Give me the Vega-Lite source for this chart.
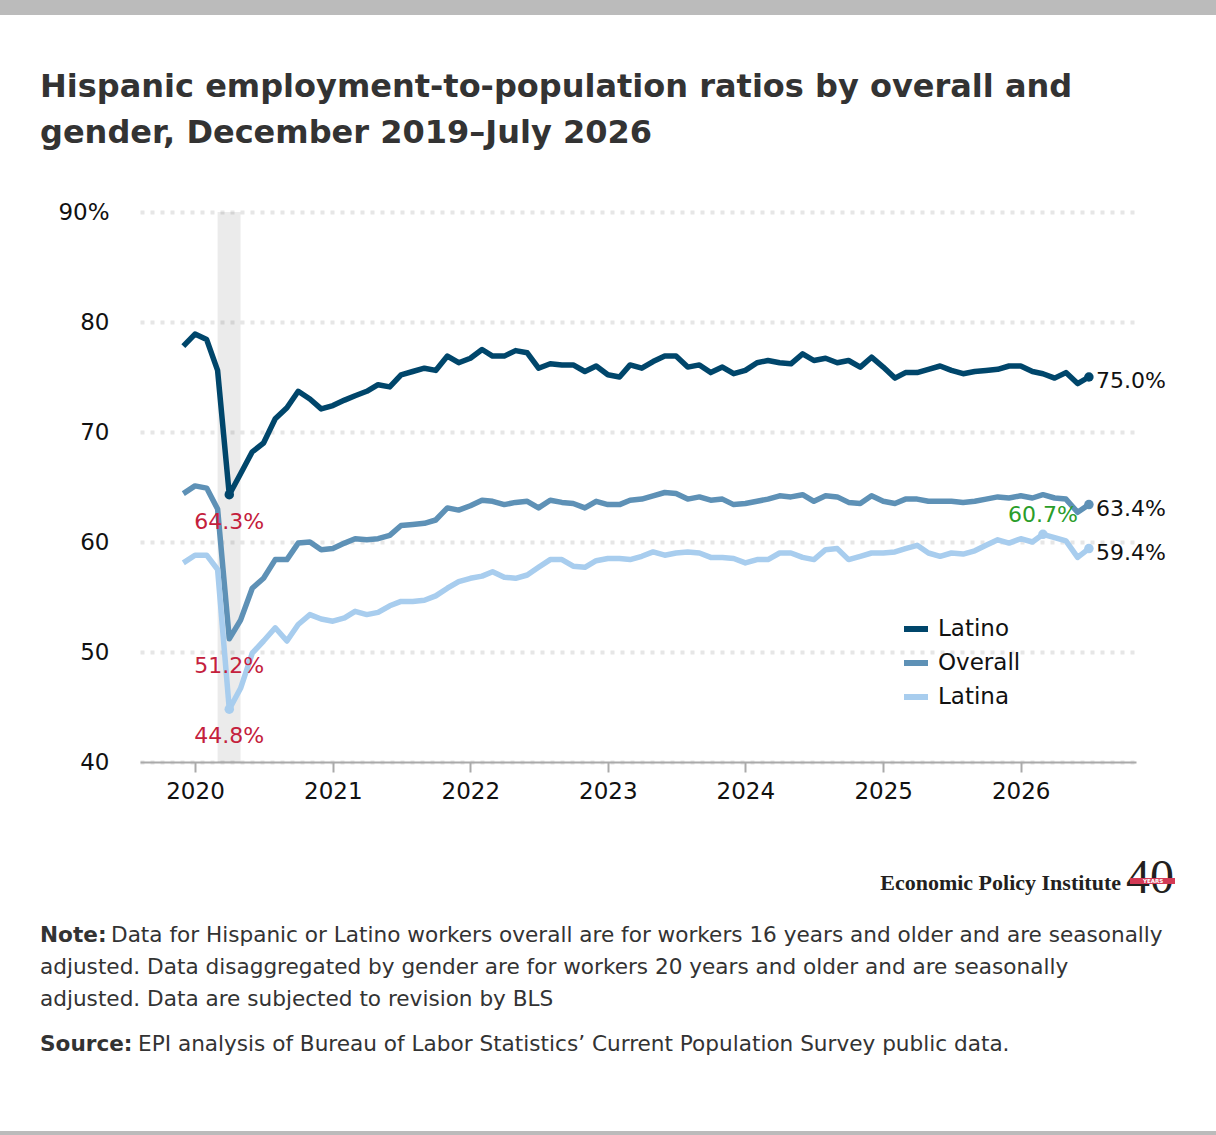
{
  "$schema": "https://vega.github.io/schema/vega-lite/v6.json",
  "background": "white",
  "padding": 0,
  "spacing": 52,
  "config": {
    "font": "DejaVu Sans",
    "view": {"stroke": null}
  },
  "vconcat": [
    {
      "width": 1076,
      "height": 15,
      "data": {"values": [{}]},
      "mark": {"type": "rect", "color": "#bbbbbb"},
      "encoding": {
        "x": {"datum": 0, "type": "quantitative", "scale": {"domain": [140, 1216], "nice": false, "zero": false}, "axis": null},
        "x2": {"datum": 1216}
      },
      "title": {
        "text": ["Hispanic employment-to-population ratios by overall and", "gender, December 2019–July 2026"],
        "orient": "bottom",
        "anchor": "start",
        "frame": "group",
        "dx": -100,
        "offset": 82,
        "baseline": "alphabetic",
        "font": "DejaVu Sans",
        "fontSize": 32,
        "fontWeight": 700,
        "color": "#333333",
        "lineHeight": 46
      }
    },
    {
      "width": 996,
      "height": 550,
      "layer": [
        {
          "data": {
            "values": [{"start": "2020-03-01", "end": "2020-05-01"}],
            "format": {"parse": {"start": "date", "end": "date"}}
          },
          "mark": {"type": "rect", "color": "#000000", "opacity": 0.08},
          "encoding": {
            "x": {
              "field": "start",
              "type": "temporal",
              "scale": {
                "type": "utc",
                "domain": [
                  {"year": 2019, "month": 8, "date": 8, "utc": true},
                  {"year": 2026, "month": 11, "date": 3, "utc": true}
                ]
              },
              "axis": {
                "title": null,
                "format": "%Y",
                "values": [
                  {"year": 2020, "utc": true},
                  {"year": 2021, "utc": true},
                  {"year": 2022, "utc": true},
                  {"year": 2023, "utc": true},
                  {"year": 2024, "utc": true},
                  {"year": 2025, "utc": true},
                  {"year": 2026, "utc": true}
                ],
                "grid": false,
                "domainColor": "#aaaaaa",
                "domainWidth": 2,
                "tickColor": "#aaaaaa",
                "tickWidth": 2,
                "tickSize": 10,
                "labelFont": "DejaVu Sans",
                "labelFontSize": 23,
                "labelColor": "#111111",
                "labelPadding": 8
              }
            },
            "x2": {"field": "end"}
          }
        },
        {
          "data": {
            "values": [
              {"date": "2019-12-01", "Latino": 77.8, "Overall": 64.4, "Latina": 58.1},
              {"date": "2020-01-01", "Latino": 78.9, "Overall": 65.1, "Latina": 58.8},
              {"date": "2020-02-01", "Latino": 78.4, "Overall": 64.9, "Latina": 58.8},
              {"date": "2020-03-01", "Latino": 75.6, "Overall": 63.0, "Latina": 57.5},
              {"date": "2020-04-01", "Latino": 64.3, "Overall": 51.2, "Latina": 44.8},
              {"date": "2020-05-01", "Latino": 66.2, "Overall": 52.9, "Latina": 46.7},
              {"date": "2020-06-01", "Latino": 68.2, "Overall": 55.8, "Latina": 49.9},
              {"date": "2020-07-01", "Latino": 69.0, "Overall": 56.7, "Latina": 51.0},
              {"date": "2020-08-01", "Latino": 71.2, "Overall": 58.4, "Latina": 52.2},
              {"date": "2020-09-01", "Latino": 72.2, "Overall": 58.4, "Latina": 51.0},
              {"date": "2020-10-01", "Latino": 73.7, "Overall": 59.9, "Latina": 52.5},
              {"date": "2020-11-01", "Latino": 73.0, "Overall": 60.0, "Latina": 53.4},
              {"date": "2020-12-01", "Latino": 72.1, "Overall": 59.3, "Latina": 53.0},
              {"date": "2021-01-01", "Latino": 72.4, "Overall": 59.4, "Latina": 52.8},
              {"date": "2021-02-01", "Latino": 72.9, "Overall": 59.9, "Latina": 53.1},
              {"date": "2021-03-01", "Latino": 73.3, "Overall": 60.3, "Latina": 53.7},
              {"date": "2021-04-01", "Latino": 73.7, "Overall": 60.2, "Latina": 53.4},
              {"date": "2021-05-01", "Latino": 74.3, "Overall": 60.3, "Latina": 53.6},
              {"date": "2021-06-01", "Latino": 74.1, "Overall": 60.6, "Latina": 54.2},
              {"date": "2021-07-01", "Latino": 75.2, "Overall": 61.5, "Latina": 54.6},
              {"date": "2021-08-01", "Latino": 75.5, "Overall": 61.6, "Latina": 54.6},
              {"date": "2021-09-01", "Latino": 75.8, "Overall": 61.7, "Latina": 54.7},
              {"date": "2021-10-01", "Latino": 75.6, "Overall": 62.0, "Latina": 55.1},
              {"date": "2021-11-01", "Latino": 76.9, "Overall": 63.1, "Latina": 55.8},
              {"date": "2021-12-01", "Latino": 76.3, "Overall": 62.9, "Latina": 56.4},
              {"date": "2022-01-01", "Latino": 76.7, "Overall": 63.3, "Latina": 56.7},
              {"date": "2022-02-01", "Latino": 77.5, "Overall": 63.8, "Latina": 56.9},
              {"date": "2022-03-01", "Latino": 76.9, "Overall": 63.7, "Latina": 57.3},
              {"date": "2022-04-01", "Latino": 76.9, "Overall": 63.4, "Latina": 56.8},
              {"date": "2022-05-01", "Latino": 77.4, "Overall": 63.6, "Latina": 56.7},
              {"date": "2022-06-01", "Latino": 77.2, "Overall": 63.7, "Latina": 57.0},
              {"date": "2022-07-01", "Latino": 75.8, "Overall": 63.1, "Latina": 57.7},
              {"date": "2022-08-01", "Latino": 76.2, "Overall": 63.8, "Latina": 58.4},
              {"date": "2022-09-01", "Latino": 76.1, "Overall": 63.6, "Latina": 58.4},
              {"date": "2022-10-01", "Latino": 76.1, "Overall": 63.5, "Latina": 57.8},
              {"date": "2022-11-01", "Latino": 75.5, "Overall": 63.1, "Latina": 57.7},
              {"date": "2022-12-01", "Latino": 76.0, "Overall": 63.7, "Latina": 58.3},
              {"date": "2023-01-01", "Latino": 75.2, "Overall": 63.4, "Latina": 58.5},
              {"date": "2023-02-01", "Latino": 75.0, "Overall": 63.4, "Latina": 58.5},
              {"date": "2023-03-01", "Latino": 76.1, "Overall": 63.8, "Latina": 58.4},
              {"date": "2023-04-01", "Latino": 75.8, "Overall": 63.9, "Latina": 58.7},
              {"date": "2023-05-01", "Latino": 76.4, "Overall": 64.2, "Latina": 59.1},
              {"date": "2023-06-01", "Latino": 76.9, "Overall": 64.5, "Latina": 58.8},
              {"date": "2023-07-01", "Latino": 76.9, "Overall": 64.4, "Latina": 59.0},
              {"date": "2023-08-01", "Latino": 75.9, "Overall": 63.9, "Latina": 59.1},
              {"date": "2023-09-01", "Latino": 76.1, "Overall": 64.1, "Latina": 59.0},
              {"date": "2023-10-01", "Latino": 75.4, "Overall": 63.8, "Latina": 58.6},
              {"date": "2023-11-01", "Latino": 75.9, "Overall": 63.9, "Latina": 58.6},
              {"date": "2023-12-01", "Latino": 75.3, "Overall": 63.4, "Latina": 58.5},
              {"date": "2024-01-01", "Latino": 75.6, "Overall": 63.5, "Latina": 58.1},
              {"date": "2024-02-01", "Latino": 76.3, "Overall": 63.7, "Latina": 58.4},
              {"date": "2024-03-01", "Latino": 76.5, "Overall": 63.9, "Latina": 58.4},
              {"date": "2024-04-01", "Latino": 76.3, "Overall": 64.2, "Latina": 59.0},
              {"date": "2024-05-01", "Latino": 76.2, "Overall": 64.1, "Latina": 59.0},
              {"date": "2024-06-01", "Latino": 77.1, "Overall": 64.3, "Latina": 58.6},
              {"date": "2024-07-01", "Latino": 76.5, "Overall": 63.7, "Latina": 58.4},
              {"date": "2024-08-01", "Latino": 76.7, "Overall": 64.2, "Latina": 59.3},
              {"date": "2024-09-01", "Latino": 76.3, "Overall": 64.1, "Latina": 59.4},
              {"date": "2024-10-01", "Latino": 76.5, "Overall": 63.6, "Latina": 58.4},
              {"date": "2024-11-01", "Latino": 75.9, "Overall": 63.5, "Latina": 58.7},
              {"date": "2024-12-01", "Latino": 76.8, "Overall": 64.2, "Latina": 59.0},
              {"date": "2025-01-01", "Latino": 75.9, "Overall": 63.7, "Latina": 59.0},
              {"date": "2025-02-01", "Latino": 74.9, "Overall": 63.5, "Latina": 59.1},
              {"date": "2025-03-01", "Latino": 75.4, "Overall": 63.9, "Latina": 59.4},
              {"date": "2025-04-01", "Latino": 75.4, "Overall": 63.9, "Latina": 59.7},
              {"date": "2025-05-01", "Latino": 75.7, "Overall": 63.7, "Latina": 59.0},
              {"date": "2025-06-01", "Latino": 76.0, "Overall": 63.7, "Latina": 58.7},
              {"date": "2025-07-01", "Latino": 75.6, "Overall": 63.7, "Latina": 59.0},
              {"date": "2025-08-01", "Latino": 75.3, "Overall": 63.6, "Latina": 58.9},
              {"date": "2025-09-01", "Latino": 75.5, "Overall": 63.7, "Latina": 59.2},
              {"date": "2025-10-01", "Latino": 75.6, "Overall": 63.9, "Latina": 59.7},
              {"date": "2025-11-01", "Latino": 75.7, "Overall": 64.1, "Latina": 60.2},
              {"date": "2025-12-01", "Latino": 76.0, "Overall": 64.0, "Latina": 59.9},
              {"date": "2026-01-01", "Latino": 76.0, "Overall": 64.2, "Latina": 60.3},
              {"date": "2026-02-01", "Latino": 75.5, "Overall": 64.0, "Latina": 60.0},
              {"date": "2026-03-01", "Latino": 75.3, "Overall": 64.3, "Latina": 60.7},
              {"date": "2026-04-01", "Latino": 74.9, "Overall": 64.0, "Latina": 60.4},
              {"date": "2026-05-01", "Latino": 75.4, "Overall": 63.9, "Latina": 60.1},
              {"date": "2026-06-01", "Latino": 74.4, "Overall": 62.7, "Latina": 58.6},
              {"date": "2026-07-01", "Latino": 75.0, "Overall": 63.4, "Latina": 59.4}
            ],
            "format": {"parse": {"date": "date"}}
          },
          "transform": [
            {"fold": ["Latino", "Overall", "Latina"], "as": ["series", "value"]},
            {"calculate": "format(datum.value, '.1f') + '%'", "as": "label"}
          ],
          "encoding": {
            "x": {
              "field": "date",
              "type": "temporal",
              "scale": {
                "type": "utc",
                "domain": [
                  {"year": 2019, "month": 8, "date": 8, "utc": true},
                  {"year": 2026, "month": 11, "date": 3, "utc": true}
                ]
              },
              "axis": {
                "title": null,
                "format": "%Y",
                "values": [
                  {"year": 2020, "utc": true},
                  {"year": 2021, "utc": true},
                  {"year": 2022, "utc": true},
                  {"year": 2023, "utc": true},
                  {"year": 2024, "utc": true},
                  {"year": 2025, "utc": true},
                  {"year": 2026, "utc": true}
                ],
                "grid": false,
                "domainColor": "#aaaaaa",
                "domainWidth": 2,
                "tickColor": "#aaaaaa",
                "tickWidth": 2,
                "tickSize": 10,
                "labelFont": "DejaVu Sans",
                "labelFontSize": 23,
                "labelColor": "#111111",
                "labelPadding": 8
              }
            },
            "y": {
              "field": "value",
              "type": "quantitative",
              "scale": {"domain": [40, 90], "nice": false, "zero": false},
              "axis": {
                "title": null,
                "values": [40, 50, 60, 70, 80, 90],
                "labelExpr": "datum.value == 90 ? '90%' : datum.label",
                "domain": false,
                "ticks": false,
                "labelFont": "DejaVu Sans",
                "labelFontSize": 23,
                "labelColor": "#111111",
                "labelPadding": 31,
                "grid": true,
                "gridColor": "#e6e6e6",
                "gridWidth": 4,
                "gridDash": [4, 6],
                "minExtent": 140
              }
            },
            "color": {
              "field": "series",
              "type": "nominal",
              "scale": {
                "domain": ["Latino", "Overall", "Latina"],
                "range": ["#00466b", "#5e91b6", "#a8cdee"]
              },
              "legend": null
            }
          },
          "layer": [
            {
              "mark": {"type": "line", "strokeWidth": 5.5, "strokeJoin": "round"},
              "encoding": {
                "color": {
                  "field": "series",
                  "type": "nominal",
                  "scale": {
                    "domain": ["Latino", "Overall", "Latina"],
                    "range": ["#00466b", "#5e91b6", "#a8cdee"]
                  },
                  "legend": {
                    "title": null,
                    "orient": "none",
                    "legendX": 761,
                    "legendY": 614,
                    "symbolType": "stroke",
                    "symbolStrokeWidth": 6,
                    "symbolSize": 576,
                    "labelFont": "DejaVu Sans",
                    "labelFontSize": 23,
                    "labelColor": "#111111",
                    "labelOffset": 7,
                    "rowPadding": 7
                  }
                }
              }
            },
            {
              "transform": [
                {"filter": "(utcyear(datum.date) == 2020 && utcmonth(datum.date) == 3 && datum.series != 'Overall') || (utcyear(datum.date) == 2026 && utcmonth(datum.date) == 6) || (datum.series == 'Latina' && utcyear(datum.date) == 2026 && utcmonth(datum.date) == 2)"}
              ],
              "mark": {"type": "point", "filled": true, "size": 90, "opacity": 1}
            },
            {
              "transform": [
                {"filter": "utcyear(datum.date) == 2020 && utcmonth(datum.date) == 3"}
              ],
              "mark": {"type": "text", "align": "center", "baseline": "middle", "dy": 27, "fontSize": 22, "font": "DejaVu Sans"},
              "encoding": {"text": {"field": "label"}, "color": {"value": "#c4203c"}}
            },
            {
              "transform": [
                {"filter": "utcyear(datum.date) == 2026 && utcmonth(datum.date) == 6"}
              ],
              "mark": {"type": "text", "align": "left", "baseline": "middle", "dx": 7, "dy": 4, "fontSize": 22, "font": "DejaVu Sans"},
              "encoding": {"text": {"field": "label"}, "color": {"value": "#111111"}}
            },
            {
              "transform": [
                {"filter": "datum.series == 'Latina' && utcyear(datum.date) == 2026 && utcmonth(datum.date) == 2"}
              ],
              "mark": {"type": "text", "align": "center", "baseline": "middle", "dy": -19, "fontSize": 22, "font": "DejaVu Sans"},
              "encoding": {"text": {"field": "label"}, "color": {"value": "#2a9d2a"}}
            }
          ]
        }
      ]
    },
    {
      "width": 1076,
      "height": 223,
      "data": {"values": [{}]},
      "encoding": {
        "x": {"datum": 0, "type": "quantitative", "scale": {"domain": [140, 1216], "nice": false, "zero": false}, "axis": null},
        "y": {"datum": 0, "type": "quantitative", "scale": {"domain": [0, 223], "nice": false, "zero": false, "reverse": true}, "axis": null}
      },
      "layer": [
        {
          "mark": {"type": "text", "text": "Economic Policy Institute", "font": "Liberation Serif", "fontWeight": "bold", "fontSize": 22, "align": "right", "baseline": "alphabetic", "color": "#231f20"},
          "encoding": {"x": {"datum": 1121, "type": "quantitative"}, "y": {"datum": 34, "type": "quantitative"}}
        },
        {
          "mark": {"type": "text", "text": "40", "font": "Liberation Serif", "fontSize": 48, "align": "center", "baseline": "alphabetic", "color": "#231f20"},
          "encoding": {"x": {"datum": 1150, "type": "quantitative"}, "y": {"datum": 37, "type": "quantitative"}}
        },
        {
          "mark": {"type": "rect", "color": "#d33a55"},
          "encoding": {
            "x": {"datum": 1130, "type": "quantitative"},
            "x2": {"datum": 1175},
            "y": {"datum": 22, "type": "quantitative"},
            "y2": {"datum": 28}
          }
        },
        {
          "mark": {"type": "text", "text": "YEARS", "font": "DejaVu Sans", "fontWeight": "bold", "fontSize": 5.5, "align": "center", "baseline": "middle", "color": "#ffffff"},
          "encoding": {"x": {"datum": 1153, "type": "quantitative"}, "y": {"datum": 25, "type": "quantitative"}}
        },
        {
          "mark": {"type": "text", "text": "Note:", "font": "DejaVu Sans", "fontWeight": "bold", "fontSize": 21.6, "align": "left", "baseline": "alphabetic", "color": "#333333"},
          "encoding": {"x": {"datum": 40, "type": "quantitative"}, "y": {"datum": 86, "type": "quantitative"}}
        },
        {
          "mark": {"type": "text", "text": "Data for Hispanic or Latino workers overall are for workers 16 years and older and are seasonally", "font": "DejaVu Sans", "fontSize": 21.6, "align": "left", "baseline": "alphabetic", "color": "#333333"},
          "encoding": {"x": {"datum": 111, "type": "quantitative"}, "y": {"datum": 86, "type": "quantitative"}}
        },
        {
          "mark": {"type": "text", "text": "adjusted. Data disaggregated by gender are for workers 20 years and older and are seasonally", "font": "DejaVu Sans", "fontSize": 21.6, "align": "left", "baseline": "alphabetic", "color": "#333333"},
          "encoding": {"x": {"datum": 40, "type": "quantitative"}, "y": {"datum": 118, "type": "quantitative"}}
        },
        {
          "mark": {"type": "text", "text": "adjusted. Data are subjected to revision by BLS", "font": "DejaVu Sans", "fontSize": 21.6, "align": "left", "baseline": "alphabetic", "color": "#333333"},
          "encoding": {"x": {"datum": 40, "type": "quantitative"}, "y": {"datum": 150, "type": "quantitative"}}
        },
        {
          "mark": {"type": "text", "text": "Source:", "font": "DejaVu Sans", "fontWeight": "bold", "fontSize": 21.6, "align": "left", "baseline": "alphabetic", "color": "#333333"},
          "encoding": {"x": {"datum": 40, "type": "quantitative"}, "y": {"datum": 195, "type": "quantitative"}}
        },
        {
          "mark": {"type": "text", "text": "EPI analysis of Bureau of Labor Statistics’ Current Population Survey public data.", "font": "DejaVu Sans", "fontSize": 21.6, "align": "left", "baseline": "alphabetic", "color": "#333333"},
          "encoding": {"x": {"datum": 138, "type": "quantitative"}, "y": {"datum": 195, "type": "quantitative"}}
        }
      ]
    },
    {
      "width": 1076,
      "height": 5,
      "data": {"values": [{}]},
      "mark": {"type": "rect", "color": "#bbbbbb"},
      "encoding": {
        "x": {"datum": 0, "type": "quantitative", "scale": {"domain": [140, 1216], "nice": false, "zero": false}, "axis": null},
        "x2": {"datum": 1216}
      }
    }
  ]
}
